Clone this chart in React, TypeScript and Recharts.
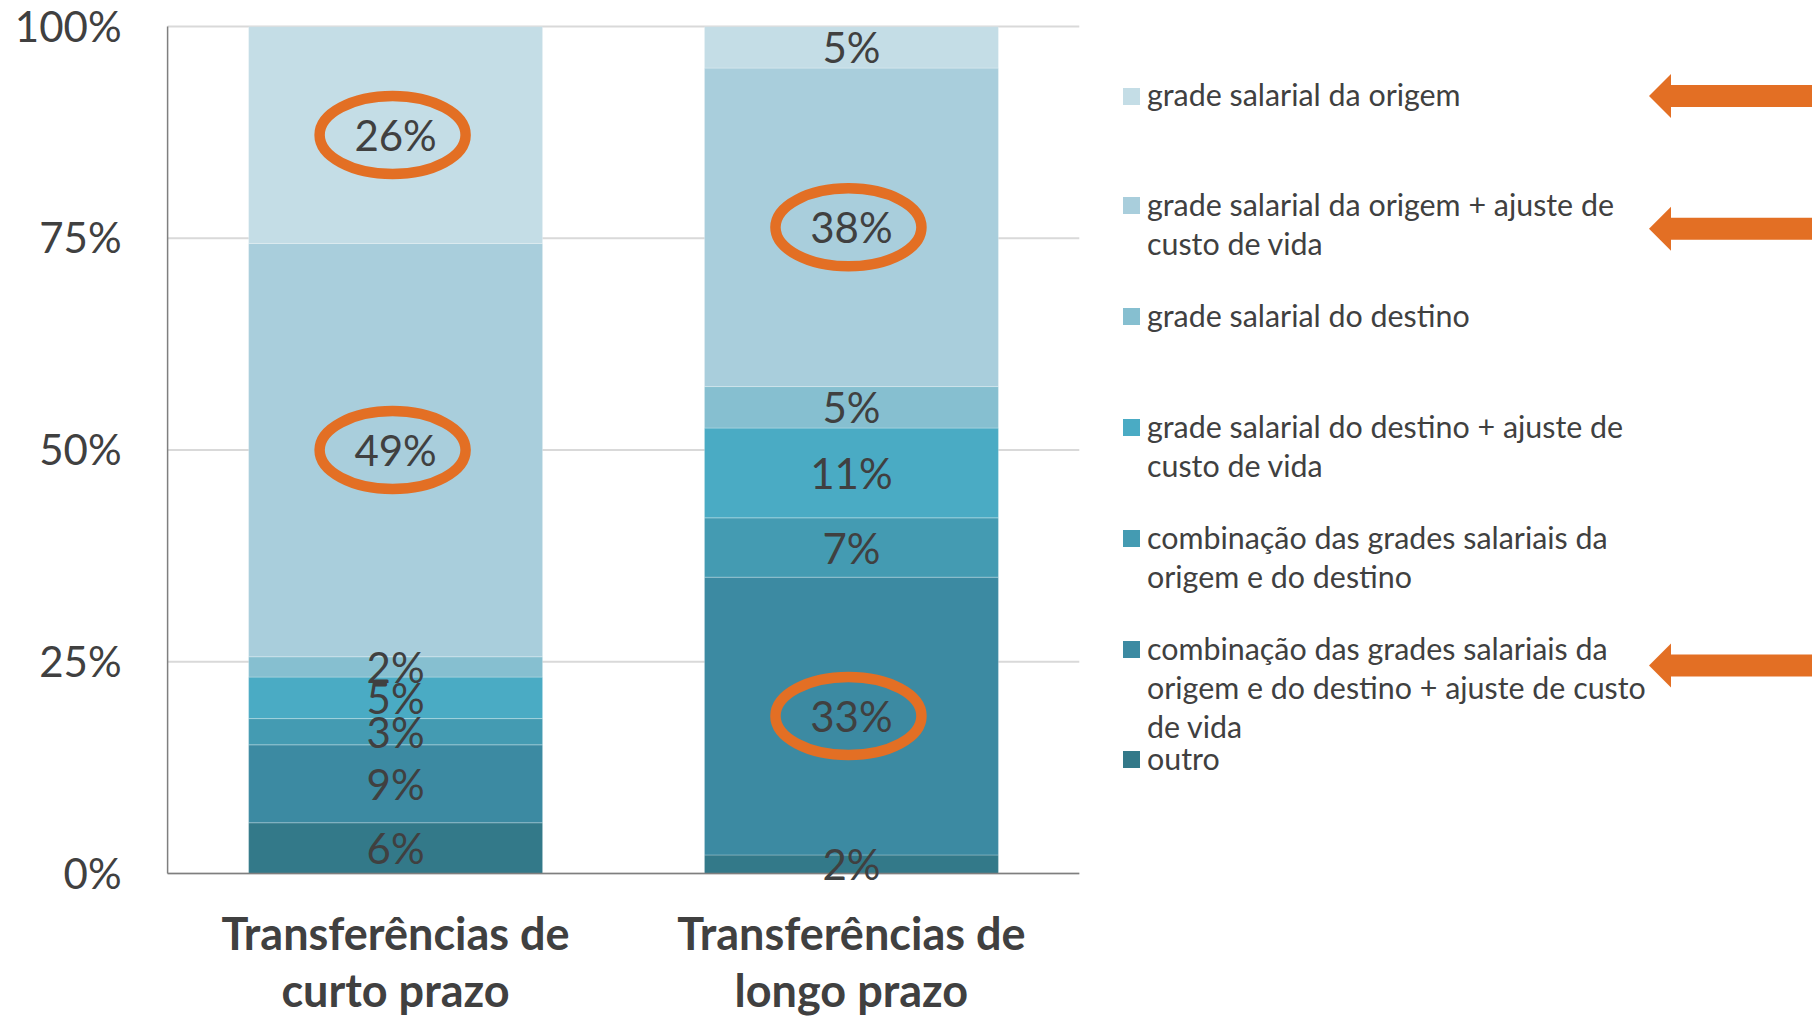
import React from 'react';
import { BarChart, Bar, XAxis, YAxis, CartesianGrid, LabelList } from 'recharts';

// ---------- data ----------
const categories = ['Transferências de curto prazo', 'Transferências de longo prazo'];
const categoryLines = [
  ['Transferências de', 'curto prazo'],
  ['Transferências de', 'longo prazo'],
];

// stacking order: bottom -> top
const seriesKeys = ['outro', 'combAjuste', 'comb', 'destinoAjuste', 'destino', 'origemAjuste', 'origem'];
const seriesNames = [
  'outro',
  'combinação das grades salariais da origem e do destino + ajuste de custo de vida',
  'combinação das grades salariais da origem e do destino',
  'grade salarial do destino + ajuste de custo de vida',
  'grade salarial do destino',
  'grade salarial da origem + ajuste de custo de vida',
  'grade salarial da origem',
];
const legendLines = [
  ['outro'],
  ['combinação das grades salariais da', 'origem e do destino + ajuste de custo', 'de vida'],
  ['combinação das grades salariais da', 'origem e do destino'],
  ['grade salarial do destino + ajuste de', 'custo de vida'],
  ['grade salarial do destino'],
  ['grade salarial da origem + ajuste de', 'custo de vida'],
  ['grade salarial da origem'],
];
const seriesColors = ['#337989', '#3C8AA2', '#449BB2', '#4AABC4', '#86BFD0', '#A9CEDC', '#C4DDE6'];

const outro = [6.0, 2.2];
const combAjuste = [9.2, 32.8];
const comb = [3.1, 7.0];
const destinoAjuste = [4.9, 10.6];
const destino = [2.4, 4.9];
const origemAjuste = [48.8, 37.6];
const origem = [25.6, 4.9];
const seriesValues = [outro, combAjuste, comb, destinoAjuste, destino, origemAjuste, origem];

// circled values (per series, per category)
const highlighted = [
  [false, false],
  [false, true],
  [false, false],
  [false, false],
  [false, false],
  [true, true],
  [true, false],
];
// series that get an arrow in the legend
const arrowed = [false, true, false, false, false, true, true];

const yTicks = [0, 25, 50, 75, 100];

const data = categories.map((c, i) => {
  const row: any = { name: c, idx: i };
  seriesKeys.forEach((k, s) => {
    row[k] = seriesValues[s][i];
  });
  return row;
});

// ---------- styles ----------
const FONT = 'Lato';
const TEXT = '#404040';
const ORANGE = '#E36F24';

const makeLabel = (s: number) => (props: any) => {
  const { x, y, width, height, value, index } = props;
  const cx = x + width / 2;
  const cy = y + height / 2;
  const hl = highlighted[s][index];
  return (
    <g>
      <text
        x={cx}
        y={cy}
        textAnchor="middle"
        dominantBaseline="central"
        fontFamily={FONT}
        fontSize={42}
        fill={TEXT}
      >
        {Math.round(value) + '%'}
      </text>
      {hl && (
        <ellipse cx={cx - 3} cy={cy} rx={73} ry={39} fill="none" stroke={ORANGE} strokeWidth={10.5} />
      )}
    </g>
  );
};

const CategoryTick = (props: any) => {
  const { x, y, payload } = props;
  const lines = categoryLines[payload.index] || [payload.value];
  return (
    <text x={x} y={y} textAnchor="middle" fontFamily={FONT} fontWeight={700} fontSize={45} fill={TEXT}>
      {lines.map((l, i) => (
        <tspan key={i} x={x} dy={i === 0 ? 76 : 57.8}>
          {l}
        </tspan>
      ))}
    </text>
  );
};

const legendCenters = [96, 205.7, 316.6, 427.6, 538.5, 649.4, 759.2];
const arrowCenters: Record<number, number> = { 6: 96, 5: 228.8, 1: 665.6 };

function LegendBlock() {
  const order = [6, 5, 4, 3, 2, 1, 0];
  return (
    <>
      {order.map((s, i) => {
        const cy = legendCenters[i];
        return (
          <React.Fragment key={s}>
            <div
              style={{
                position: 'absolute',
                left: 1123,
                top: cy - 8.5,
                width: 17,
                height: 17,
                background: seriesColors[s],
              }}
            />
            <div
              title={seriesNames[s]}
              style={{
                position: 'absolute',
                left: 1147,
                top: cy - 20.65,
                fontFamily: FONT,
                fontSize: 30.4,
                lineHeight: '39.3px',
                color: TEXT,
                whiteSpace: 'nowrap',
              }}
            >
              {legendLines[s].map((l, j) => (
                <div key={j}>{l}</div>
              ))}
            </div>
          </React.Fragment>
        );
      })}
      <svg
        width={1812}
        height={1018}
        style={{ position: 'absolute', left: 0, top: 0, pointerEvents: 'none' }}
      >
        {arrowed.map((a, s) => {
          if (!a) return null;
          const cy = arrowCenters[s];
          const tip = 1649;
          const back = 1671;
          const end = 1812;
          const hh = 22;
          const sh = 11;
          const pts = [
            [tip, cy],
            [back, cy - hh],
            [back, cy - sh],
            [end, cy - sh],
            [end, cy + sh],
            [back, cy + sh],
            [back, cy + hh],
          ]
            .map((p) => p.join(','))
            .join(' ');
          return <polygon key={s} points={pts} fill={ORANGE} />;
        })}
      </svg>
    </>
  );
}

export default function App() {
  return (
    <div style={{ position: 'absolute', left: 0, top: 0, width: 1812, height: 1018, background: '#fff' }}>
      <BarChart
        width={1812}
        height={1018}
        data={data}
        margin={{ top: 26.6, right: 732.7, bottom: 0, left: 47.6 }}
        barSize={294}
      >
        <CartesianGrid vertical={false} stroke="#D9D9D9" strokeWidth={2} />
        <XAxis
          dataKey="name"
          height={144.4}
          tickLine={false}
          tickSize={0}
          tickMargin={0}
          axisLine={{ stroke: '#7F7F7F', strokeWidth: 1.5 }}
          tick={<CategoryTick />}
          interval={0}
        />
        <YAxis
          width={120}
          domain={[0, 100]}
          ticks={yTicks}
          type="number"
          allowDataOverflow
          tickLine={false}
          tickSize={0}
          tickMargin={46}
          axisLine={{ stroke: '#7F7F7F', strokeWidth: 1.5 }}
          tickFormatter={(v: number) => v + '%'}
          tick={{ fontFamily: FONT, fontSize: 42, fill: TEXT }}
        />
        {seriesKeys.map((k, s) => (
          <Bar
            key={k}
            dataKey={k}
            name={seriesNames[s]}
            stackId="a"
            fill={seriesColors[s]}
            stroke="#ffffff"
            strokeOpacity={0.25}
            strokeWidth={1}
            isAnimationActive={false}
          >
            <LabelList dataKey={k} content={makeLabel(s)} />
          </Bar>
        ))}
      </BarChart>
      <LegendBlock />
    </div>
  );
}
